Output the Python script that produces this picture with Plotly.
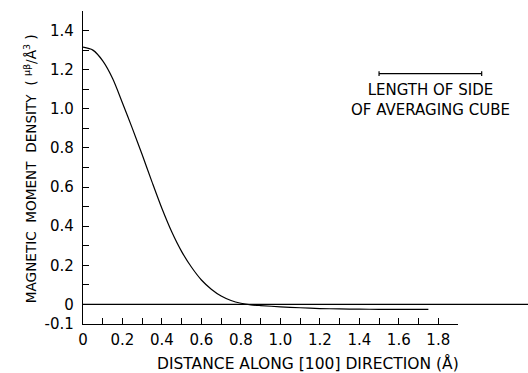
import plotly.graph_objects as go

# Data
distance = [0.0, 0.05, 0.1, 0.15, 0.2, 0.25, 0.3, 0.35, 0.4, 0.45, 0.5, 0.55, 0.6,
            0.65, 0.7, 0.75, 0.8, 0.85, 0.9, 1.0, 1.1, 1.2, 1.3, 1.4, 1.5, 1.6, 1.75]
density = [1.315, 1.30, 1.245, 1.155, 1.03, 0.90, 0.765, 0.625, 0.49, 0.37, 0.27, 0.19, 0.125,
           0.078, 0.043, 0.02, 0.006, -0.002, -0.006, -0.012, -0.017, -0.021, -0.023,
           -0.024, -0.025, -0.025, -0.025]

x_tickvals = [0, 0.2, 0.4, 0.6, 0.8, 1.0, 1.2, 1.4, 1.6, 1.8]
x_ticktext = ["0", "0.2", "0.4", "0.6", "0.8", "1.0", "1.2", "1.4", "1.6", "1.8"]
y_tickvals = [-0.1, 0, 0.2, 0.4, 0.6, 0.8, 1.0, 1.2, 1.4]
y_ticktext = ["-0.1", "0", "0.2", "0.4", "0.6", "0.8", "1.0", "1.2", "1.4"]

x_range = [0, 1.9]
y_range = [-0.1, 1.5]

# Averaging cube side length (scale bar)
cube_start = 1.5
cube_side = 0.52
cube_bar_y = 1.18

FONT = "DejaVu Sans, sans-serif"

fig = go.Figure()
fig.add_trace(go.Scatter(x=distance, y=density, mode="lines",
                         line=dict(color="black", width=1.2, shape="spline", smoothing=0.8),
                         showlegend=False, hoverinfo="skip"))

xspan = x_range[1] - x_range[0]
fig.add_shape(type="line", xref="paper", yref="y", x0=0, x1=1.19, y0=0, y1=0,
              line=dict(color="black", width=1.2))
bx0 = (cube_start - x_range[0]) / xspan
bx1 = (cube_start + cube_side - x_range[0]) / xspan
fig.add_shape(type="line", xref="paper", yref="y", x0=bx0, x1=bx1,
              y0=cube_bar_y, y1=cube_bar_y, line=dict(color="black", width=1.2))
for bx in (bx0, bx1):
    fig.add_shape(type="line", xref="paper", yref="y", x0=bx, x1=bx,
                  y0=cube_bar_y - 0.012, y1=cube_bar_y + 0.012,
                  line=dict(color="black", width=1.2))

fig.add_annotation(xref="paper", yref="y", x=(cube_start + cube_side / 2 - x_range[0]) / xspan,
                   y=1.047, text="LENGTH OF SIDE<br>OF AVERAGING CUBE", showarrow=False,
                   font=dict(family=FONT, size=15, color="black"), align="center",
                   xanchor="center", yanchor="middle")

fig.add_annotation(xref="paper", yref="paper", x=0.601, y=-0.126,
                   text="DISTANCE ALONG [100] DIRECTION (Å)", showarrow=False,
                   font=dict(family=FONT, size=15.5, color="black"),
                   xanchor="center", yanchor="middle")
fig.add_annotation(xref="paper", yref="paper", x=-0.141, y=0.495, textangle=-90,
                   text="MAGNETIC  MOMENT  DENSITY  ( <sup>μβ</sup>/Å<sup>3</sup> )",
                   showarrow=False, font=dict(family=FONT, size=13.6, color="black"),
                   xanchor="center", yanchor="middle")

axis_common = dict(showline=True, linecolor="black", linewidth=1.2, ticks="inside",
                   ticklen=6, tickwidth=1.2, tickcolor="black", showgrid=False,
                   zeroline=False, mirror=False, automargin=False,
                   tickfont=dict(family=FONT, size=15, color="black"))

fig.update_xaxes(range=x_range, tickmode="array", tickvals=x_tickvals, ticktext=x_ticktext,
                 minor=dict(ticks="inside", ticklen=6, tickwidth=1.2, tickcolor="black",
                            dtick=0.1, tick0=0, showgrid=False),
                 ticklabelstandoff=2, **axis_common)
fig.update_yaxes(range=y_range, tickmode="array", tickvals=y_tickvals, ticktext=y_ticktext,
                 minor=dict(ticks="inside", ticklen=6, tickwidth=1.2, tickcolor="black",
                            dtick=0.1, tick0=0, showgrid=False),
                 ticklabelstandoff=5, **axis_common)

fig.update_layout(width=528, height=373, margin=dict(l=83, r=70, t=11, b=49),
                  plot_bgcolor="white", paper_bgcolor="white",
                  font=dict(family=FONT, color="black"))

fig.write_html("out.html", config={"displayModeBar": False},
               post_script="document.body.style.margin='0';")
